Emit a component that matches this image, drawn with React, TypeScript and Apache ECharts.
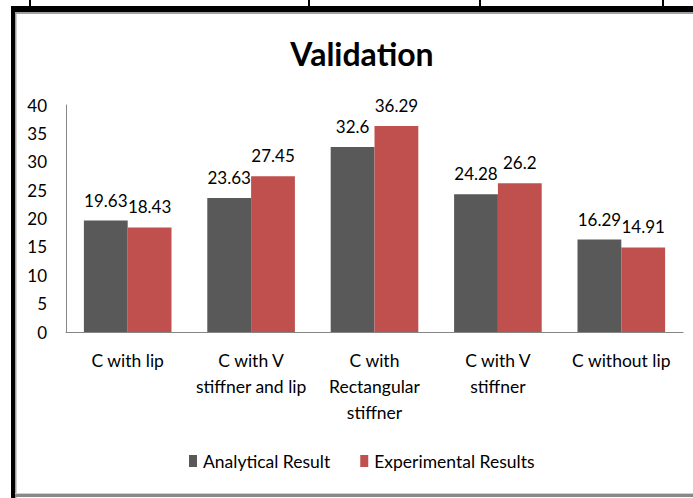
import React, { useEffect, useRef } from "react";
import * as echarts from "echarts";

const categories = [
  "C with lip",
  "C with V\nstiffner and lip",
  "C with\nRectangular\nstiffner",
  "C with V\nstiffner",
  "C without lip",
];
const analytical = [19.63, 23.63, 32.6, 24.28, 16.29];
const experimental = [18.43, 27.45, 36.29, 26.2, 14.91];
const yTicks = { min: 0, max: 40, interval: 5 };

const FONT = "Lato";

export default function App() {
  const ref = useRef<HTMLDivElement>(null);
  useEffect(() => {
    if (!ref.current) return;
    const chart = echarts.init(ref.current, null, { renderer: "svg" });
    const topLines = [29, 308, 479, 662].map((x) => ({
      type: "rect",
      shape: { x, y: 0, width: 2, height: 7 },
      style: { fill: "#000" },
      silent: true,
    }));
    const labelStyle = { show: true, position: "top", fontFamily: FONT, fontSize: 17, color: "#000", distance: 12 };
    chart.setOption({
      animation: false,
      backgroundColor: "#fff",
      title: {
        text: "Validation",
        left: 357,
        textAlign: "center",
        top: 32,
        textStyle: { fontFamily: FONT, fontSize: 32, fontWeight: "bold", color: "#000" },
      },
      legend: {
        top: 447,
        left: 184,
        itemWidth: 8,
        itemHeight: 12,
        itemGap: 30,
        icon: "rect",
        textStyle: { fontFamily: FONT, fontSize: 17.5, color: "#000", padding: [0, 0, 0, 1] },
      },
      grid: { left: 66, right: 10, top: 105, bottom: 166 },
      xAxis: {
        type: "category",
        data: categories,
        axisLine: { lineStyle: { color: "#868686", width: 1 } },
        axisTick: { show: false },
        axisLabel: {
          interval: 0,
          fontFamily: FONT,
          fontSize: 17.5,
          color: "#000",
          lineHeight: 26,
          margin: 15,
        },
      },
      yAxis: {
        type: "value",
        min: yTicks.min,
        max: yTicks.max,
        interval: yTicks.interval,
        axisLine: { show: true, lineStyle: { color: "#868686", width: 1 } },
        axisTick: { show: false },
        splitLine: { show: false },
        axisLabel: { fontFamily: FONT, fontSize: 17, color: "#000", margin: 19 },
      },
      series: [
        {
          name: "Analytical Result",
          type: "bar",
          data: analytical,
          itemStyle: { color: "#595959" },
          barGap: "0%",
          barCategoryGap: "29%",
          label: labelStyle,
        },
        {
          name: "Experimental Results",
          type: "bar",
          data: experimental,
          itemStyle: { color: "#C0504D" },
          barGap: "0%",
          barCategoryGap: "29%",
          label: labelStyle,
        },
      ],
      graphic: [
        ...topLines,
        { type: "rect", shape: { x: 11, y: 6, width: 682, height: 6 }, style: { fill: "#000" }, silent: true },
        { type: "rect", shape: { x: 11, y: 6, width: 4, height: 492 }, style: { fill: "#000" }, silent: true },
        { type: "rect", shape: { x: 15, y: 12, width: 678, height: 2 }, style: { fill: "#a0a0a0" }, silent: true },
        { type: "rect", shape: { x: 15, y: 12, width: 1.5, height: 486 }, style: { fill: "#a0a0a0" }, silent: true },
        { type: "rect", shape: { x: 15, y: 493, width: 678, height: 1 }, style: { fill: "#d0d0d0" }, silent: true },
        { type: "rect", shape: { x: 15, y: 494, width: 678, height: 3 }, style: { fill: "#888" }, silent: true },
      ],
    });
    return () => chart.dispose();
  }, []);
  return (
    <div
      ref={ref}
      style={{ position: "fixed", left: 0, top: 0, width: 693, height: 498, background: "#fff" }}
    />
  );
}
